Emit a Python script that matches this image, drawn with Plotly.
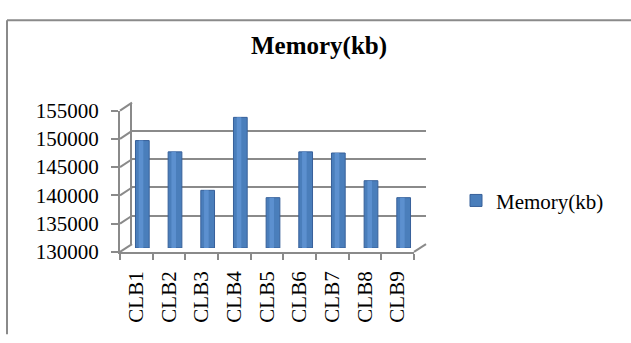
import plotly.graph_objects as go

# ---- data ----
categories = ["CLB1", "CLB2", "CLB3", "CLB4", "CLB5", "CLB6", "CLB7", "CLB8", "CLB9"]
memory_kb = [149000, 147000, 140200, 153100, 138900, 147000, 146800, 141900, 138900]
series_name = "Memory(kb)"
y_ticks = [130000, 135000, 140000, 145000, 150000, 155000]
y_min, y_max = 130000, 155000

W, H = 631, 343
FONT = "Liberation Serif"
GRAY = "#8a8a8a"


def px(x):
    return x / W


def py(y):
    return 1 - y / H


# front (axis labels), back wall (grid), mid depth (bars)
front_x, front_y = (120, 414), (258, 106)
dx, dy = 12, 8.5
back_x = (front_x[0] + dx, front_x[1] + dx)
back_y = (front_y[0] - dy, front_y[1] - dy)
mid_x = (front_x[0] + dx / 2, front_x[1] + dx / 2)
mid_y = (front_y[0] - dy / 2, front_y[1] - dy / 2)

fig = go.Figure()

# bars at mid depth
fig.add_trace(go.Bar(
    x=categories, y=[v - y_min for v in memory_kb], base=y_min,
    name=series_name, width=0.42,
    marker=dict(color="#4a7ebb", line=dict(color="#37609a", width=1)),
    xaxis="x3", yaxis="y3", showlegend=True,
))
fig.add_trace(go.Bar(
    x=categories, y=[v - y_min for v in memory_kb], base=y_min,
    name=series_name, width=0.14, offset=-0.11,
    marker=dict(color="#5c90cf", line=dict(width=0)),
    xaxis="x3", yaxis="y3", showlegend=False, hoverinfo="skip",
))
# invisible helpers so the other axis pairs render
fig.add_trace(go.Scatter(x=categories, y=memory_kb, mode="markers",
                         marker=dict(opacity=0), xaxis="x2", yaxis="y2",
                         showlegend=False, hoverinfo="skip"))
fig.add_trace(go.Scatter(x=categories, y=memory_kb, mode="markers",
                         marker=dict(opacity=0), xaxis="x", yaxis="y",
                         showlegend=False, hoverinfo="skip"))

cat_range = [-0.5, len(categories) - 0.5]

fig.update_layout(
    width=W, height=H,
    margin=dict(l=0, r=0, t=0, b=0),
    paper_bgcolor="white", plot_bgcolor="rgba(0,0,0,0)",
    barmode="overlay",
    font=dict(family=FONT, color="black"),
    title=dict(text="<b>Memory(kb)</b>", x=px(319), y=py(45),
               xanchor="center", yanchor="middle",
               font=dict(family=FONT, size=25, color="black")),
    legend=dict(x=px(456), y=py(203), xanchor="left", yanchor="middle",
                font=dict(family=FONT, size=21, color="black"),
                bgcolor="rgba(0,0,0,0)", itemwidth=30),
    # front axes: labels
    xaxis=dict(domain=[px(front_x[0]), px(front_x[1])], anchor="y",
               type="category", range=cat_range,
               showline=True, linecolor=GRAY, linewidth=2,
               ticks="outside", ticklen=6, tickcolor=GRAY, tickwidth=2,
               tickson="boundaries", tickangle=-90, ticklabelstandoff=9,
               tickfont=dict(family=FONT, size=21, color="black"),
               showgrid=False, zeroline=False),
    yaxis=dict(domain=[py(front_y[0]), py(front_y[1])], anchor="x",
               range=[y_min, y_max], tickvals=y_ticks, tickformat="d",
               showline=True, linecolor=GRAY, linewidth=2,
               ticks="outside", ticklen=7, tickcolor=GRAY, tickwidth=2,
               ticklabelstandoff=8,
               tickfont=dict(family=FONT, size=21, color="black"),
               showgrid=False, zeroline=False),
    # back wall: grid
    xaxis2=dict(domain=[px(back_x[0]), px(back_x[1])], anchor="y2",
                type="category", range=cat_range,
                showline=False, showticklabels=False, ticks="",
                showgrid=False, zeroline=False),
    yaxis2=dict(domain=[py(back_y[0]), py(back_y[1])], anchor="x2",
                range=[y_min - 20, y_max + 20], tickvals=y_ticks,
                showline=True, linecolor=GRAY, linewidth=2,
                showticklabels=False, ticks="",
                showgrid=True, gridcolor=GRAY, gridwidth=2, zeroline=False),
    # mid depth: bars
    xaxis3=dict(domain=[px(mid_x[0]), px(mid_x[1])], anchor="y3",
                type="category", range=cat_range, visible=False),
    yaxis3=dict(domain=[py(mid_y[0]), py(mid_y[1])], anchor="x3",
                range=[y_min, y_max], visible=False),
)

# perspective connectors (decoration)
shapes = []
for v in y_ticks:
    f = (v - y_min) / (y_max - y_min)
    yf = front_y[0] + f * (front_y[1] - front_y[0])
    yb = back_y[0] + f * (back_y[1] - back_y[0])
    shapes.append(dict(type="line", xref="paper", yref="paper",
                       x0=px(front_x[0]), y0=py(yf), x1=px(back_x[0]), y1=py(yb),
                       line=dict(color=GRAY, width=2)))
shapes.append(dict(type="line", xref="paper", yref="paper",
                   x0=px(front_x[1]), y0=py(front_y[0]), x1=px(back_x[1]), y1=py(back_y[0]),
                   line=dict(color=GRAY, width=2)))
# chart frame (top and left edges visible)
shapes.append(dict(type="line", xref="paper", yref="paper",
                   x0=px(7), y0=py(9), x1=1.01, y1=py(9),
                   line=dict(color=GRAY, width=2)))
shapes.append(dict(type="line", xref="paper", yref="paper",
                   x0=px(7), y0=py(9), x1=px(7), y1=-0.01,
                   line=dict(color=GRAY, width=2)))
fig.update_layout(shapes=shapes)

fig.write_html("out.html")
